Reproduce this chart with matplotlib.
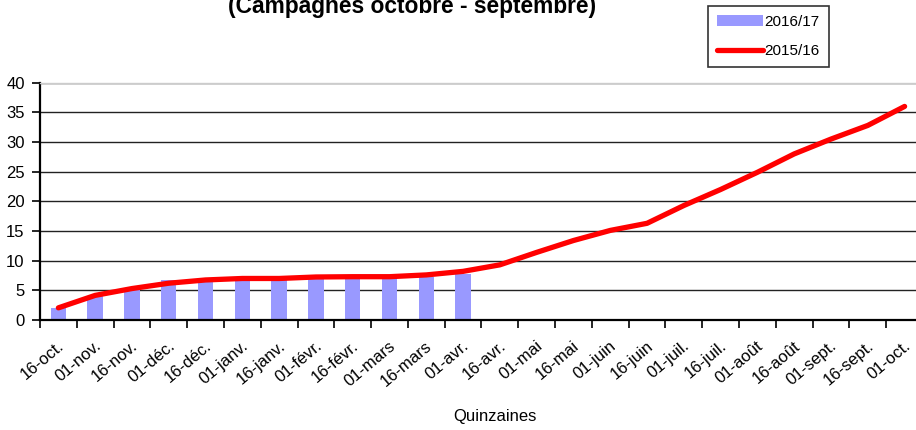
import matplotlib.pyplot as plt
import matplotlib.transforms as mtransforms
import numpy as np

plt.rcParams['font.family'] = ['Liberation Sans', 'DejaVu Sans']

# Quinzaines (campagne octobre - septembre)
quinzaines = ['16-oct.', '01-nov.', '16-nov.', '01-déc.', '16-déc.', '01-janv.',
              '16-janv.', '01-févr.', '16-févr.', '01-mars', '16-mars', '01-avr.',
              '16-avr.', '01-mai', '16-mai', '01-juin', '16-juin', '01-juil.',
              '16-juil.', '01-août', '16-août', '01-sept.', '16-sept.', '01-oct.']

# 2016/17 (barres)
val_2016_17 = [2.0, 4.0, 5.2, 6.7, 6.8, 6.9, 6.9, 7.0, 7.0, 7.0, 7.3, 7.8]

# 2015/16 (courbe)
val_2015_16 = [2.05, 4.15, 5.3, 6.2, 6.75, 7.0, 7.0, 7.25, 7.3, 7.3, 7.6, 8.2,
               9.3, 11.4, 13.4, 15.1, 16.3, 19.3, 22.0, 24.9, 28.0, 30.5, 32.8, 36.0]

fig = plt.figure(figsize=(9.16, 4.30), dpi=100)
ax = fig.add_axes([40 / 916, 1 - 320 / 430, 883 / 916, (320 - 82.7) / 430])

x_bar = np.arange(len(val_2016_17))
x_line = np.arange(len(val_2015_16))

bars = ax.bar(x_bar, val_2016_17, width=0.42, color='#9999ff', label='2016/17', zorder=2)
line, = ax.plot(x_line, val_2015_16, color='#ff0000', linewidth=3.8, solid_capstyle='round',
                label='2015/16', zorder=3)

ax.set_xlim(-0.5, len(quinzaines) - 0.5)
ax.set_ylim(0, 40)
ax.set_yticks(range(0, 41, 5))
ax.yaxis.grid(True, color='#222222', linewidth=1.0)
ax.set_axisbelow(True)

# ticks at category boundaries, labels at centres
ax.set_xticks(np.arange(-0.5, len(quinzaines), 1.0))
ax.set_xticklabels([])
ax.set_xticks(x_line, minor=True)
ax.set_xticklabels(quinzaines, minor=True, rotation=40, ha='right', rotation_mode='anchor')
ax.tick_params(axis='x', which='major', length=6, width=1.2, color='black')
ax.tick_params(axis='x', which='minor', length=0, pad=13, labelsize=12)
ax.tick_params(axis='y', length=6, width=1.2, pad=5, labelsize=12)
offset = mtransforms.ScaledTranslation(-1 / 100, 0, fig.dpi_scale_trans)
for lab in ax.get_xticklabels(minor=True):
    lab.set_transform(lab.get_transform() + offset)

for s in ['left', 'bottom']:
    ax.spines[s].set_linewidth(1.6)
    ax.spines[s].set_color('black')
ax.spines['top'].set_color('#cccccc')
ax.spines['top'].set_linewidth(1.0)
ax.spines['right'].set_visible(False)

fig.text(495 / 916, 1 - 417 / 430, 'Quinzaines', ha='center', va='center', fontsize=12)
fig.text(412 / 916, 1 - 6 / 430, '(Campagnes octobre - septembre)', ha='center', va='center',
         fontsize=16.4, fontweight='bold')

leg = fig.legend([bars, line], ['2016/17', '2015/16'], loc='upper left',
                 bbox_to_anchor=(708 / 916, 1 - 5.7 / 430), fontsize=11,
                 frameon=True, fancybox=False, edgecolor='black', borderpad=0.6,
                 labelspacing=1.0, handlelength=3.0, handletextpad=0.1, borderaxespad=0)
leg.get_frame().set_linewidth(1.2)

fig.savefig('out.png', dpi=100)
